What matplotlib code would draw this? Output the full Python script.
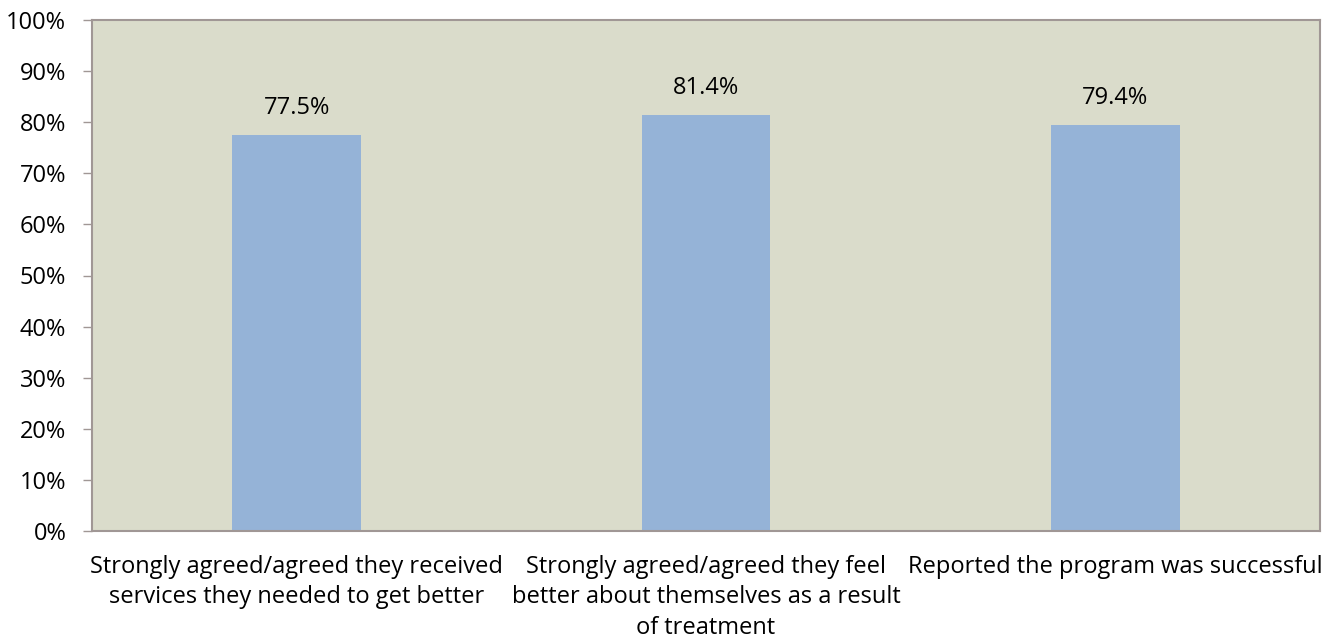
import matplotlib.pyplot as plt
from matplotlib.ticker import PercentFormatter

categories = [
    "Strongly agreed/agreed they received\nservices they needed to get better",
    "Strongly agreed/agreed they feel\nbetter about themselves as a result\nof treatment",
    "Reported the program was successful",
]
values = [77.5, 81.4, 79.4]

plt.rcParams['font.family'] = ['Open Sans', 'DejaVu Sans']

fig = plt.figure(figsize=(13.31, 6.44), dpi=100)
ax = fig.add_axes([92 / 1331, 1 - 531 / 644, (1320 - 92) / 1331, (531 - 20) / 644])

frame = '#A09795'
ax.set_facecolor('#DADCCB')
x = range(len(categories))
bars = ax.bar(x, values, width=0.315, color='#95B3D7', zorder=2)

for rect, v in zip(bars, values):
    ax.annotate(f"{v:.1f}%", (rect.get_x() + rect.get_width() / 2, v),
                xytext=(0, 11), textcoords='offset points',
                ha='center', va='bottom', fontsize=17, color='black')

ax.set_xlim(-0.5, len(categories) - 0.5)
ax.set_ylim(0, 100)
ax.set_yticks(range(0, 101, 10))
ax.yaxis.set_major_formatter(PercentFormatter(decimals=0))
ax.set_xticks(list(x))
ax.set_xticklabels(categories, fontsize=17, linespacing=1.38)
ax.tick_params(axis='x', length=0, pad=17)
ax.tick_params(axis='y', length=6.5, width=1, color=frame, labelsize=17, pad=12)

for side in ['left', 'right', 'top', 'bottom']:
    ax.spines[side].set_color(frame)
    ax.spines[side].set_linewidth(1.5)

fig.savefig('out.png', dpi=100)
